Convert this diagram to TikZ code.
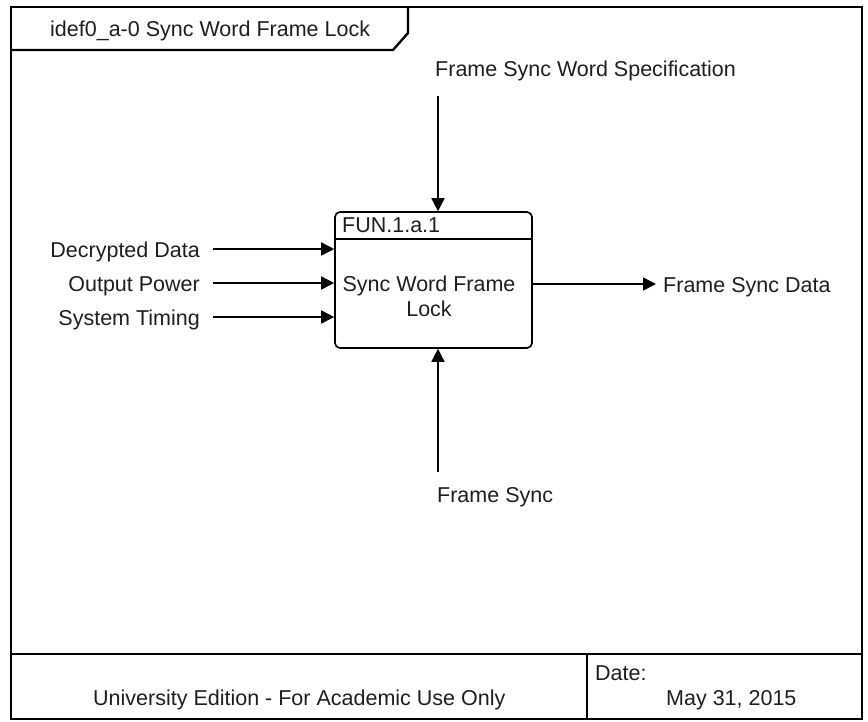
\documentclass[tikz,border=0pt]{standalone}
\usepackage{fontspec}
\setmainfont{Liberation Sans}
\usetikzlibrary{arrows.meta}
\definecolor{ink}{RGB}{30,30,30}
\tikzset{
  frameline/.style={line width=2.4pt, draw=black},
  boxline/.style={line width=1.6pt, draw=black},
  lbl/.style={inner sep=3pt, text height=15.5pt, text depth=4.5pt, text=ink},
  arr/.style={line width=1.6pt, -{Triangle[length=13pt,width=13pt]}},
  funcbox/.style={boxline, rounded corners=5pt, minimum width=197pt, minimum height=136pt, inner sep=0pt}
}
\begin{document}
\begin{tikzpicture}[x=1pt,y=-1pt, font=\fontsize{21.5}{25}\selectfont]
\useasboundingbox (0,0) rectangle (868,721);
% outer frame
\draw[frameline] (11,7) rectangle (862,719);
\draw[frameline] (11,50) -- (393,50) -- (408,33) -- (408,7);
\node[lbl, anchor=west] (title) at (47,31) {idef0\_a-0 Sync Word Frame Lock};
% footer
\coordinate (fl) at (11,654);
\coordinate (fr) at (862,654);
\coordinate (dt) at (587,654);
\coordinate (db) at (587,719);
\draw[frameline] (fl) -- (fr);
\draw[frameline] (dt) -- (db);
\node[anchor=base west, inner sep=0pt, text=ink] (univ) at (93,705) {University Edition - For Academic Use Only};
\node[anchor=base west, inner sep=0pt, text=ink] (datel) at (595,680) {Date:};
\node[anchor=base west, inner sep=0pt, text=ink] (datev) at (666,705) {May 31, 2015};
% function box
\node[funcbox] (A1) at (433.5,280) {};
\coordinate (hl) at (335,239);
\coordinate (hr) at (532,239);
\draw[boxline] (hl) -- (hr);
\node[anchor=base west, inner sep=0pt, text=ink] (fid) at (342,232) {FUN.1.a.1};
\node[align=center, inner sep=0pt, text=ink] (fname) at (429,296) {Sync Word Frame\\Lock};
% inputs
\node[lbl, anchor=east] (dd) at (203,252) {Decrypted Data};
\node[lbl, anchor=east] (op) at (203,286) {Output Power};
\node[lbl, anchor=east] (st) at (203,320) {System Timing};
\draw[arr] ([xshift=10pt,yshift=3pt]dd.east) -- ([yshift=3pt]dd.east -| A1.west);
\draw[arr] ([xshift=10pt,yshift=3pt]op.east) -- ([yshift=3pt]op.east -| A1.west);
\draw[arr] ([xshift=10pt,yshift=3pt]st.east) -- ([yshift=3pt]st.east -| A1.west);
% output
\node[lbl, anchor=west] (fsd) at (660,287) {Frame Sync Data};
\draw[arr] ([yshift=3pt]fsd.west -| A1.east) -- ([xshift=-4pt,yshift=3pt]fsd.west);
% control
\node[lbl, anchor=west] (fsws) at (432,71) {Frame Sync Word Specification};
\draw[arr] ([xshift=6pt,yshift=-12pt]fsws.south west) -- ([xshift=6pt]fsws.south west |- A1.north);
% mechanism
\node[lbl, anchor=west] (fs) at (434,497) {Frame Sync};
\draw[arr] ([xshift=4pt,yshift=12pt]fs.north west) -- ([xshift=4pt]fs.north west |- A1.south);
\end{tikzpicture}
\end{document}
